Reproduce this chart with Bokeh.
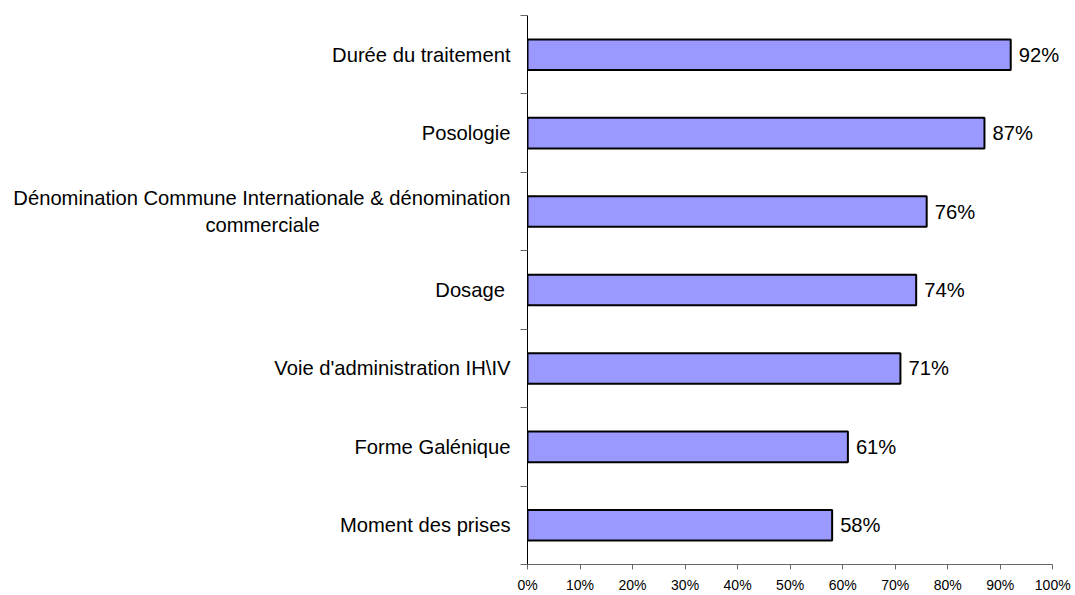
from bokeh.plotting import figure
from bokeh.models import Range1d, FixedTicker, NumeralTickFormatter, ColumnDataSource, LabelSet
from bokeh.embed import file_html
from bokeh.resources import INLINE
from bokeh.core.properties import value

categories = [
    "Durée du traitement",
    "Posologie",
    "Dénomination Commune Internationale & dénomination\ncommerciale" + " " * 34,
    "Dosage ",
    "Voie d'administration IH\\IV",
    "Forme Galénique",
    "Moment des prises",
]
values = [0.92, 0.87, 0.76, 0.74, 0.71, 0.61, 0.58]
value_labels = ["92%", "87%", "76%", "74%", "71%", "61%", "58%"]
x_ticks = [0, 0.1, 0.2, 0.3, 0.4, 0.5, 0.6, 0.7, 0.8, 0.9, 1.0]

n = len(categories)
ypos = [n - i - 0.5 for i in range(n)]

source = ColumnDataSource(dict(y=ypos, v=values, lab=value_labels))

p = figure(width=1071, height=595, output_backend="svg", toolbar_location=None,
           x_range=Range1d(0, 1.03), y_range=Range1d(0, n),
           min_border_left=527, min_border_right=3, min_border_top=15, min_border_bottom=28)
p.outline_line_color = None
p.background_fill_color = "white"
p.border_fill_color = "white"
p.xgrid.visible = False
p.ygrid.visible = False

p.hbar(y="y", right="v", left=0, height=0.39, source=source,
       fill_color="#9999FF", line_color="black", line_width=2)

labels = LabelSet(x="v", y="y", text="lab", source=source, x_offset=8, y_offset=0,
                  text_align="left", text_baseline="middle", text_font=value("Liberation Sans"),
                  text_font_size="20.2px", text_color="black")
p.add_layout(labels)

# x axis
p.xaxis.bounds = (0, 1)
p.xaxis.ticker = FixedTicker(ticks=x_ticks)
p.xaxis.formatter = NumeralTickFormatter(format="0%")
p.xaxis.major_label_text_font = "Liberation Sans"
p.xaxis.major_label_text_font_size = "14px"
p.xaxis.major_label_text_color = "black"
p.xaxis.major_tick_in = 0
p.xaxis.major_tick_out = 5
p.xaxis.minor_tick_line_color = None
p.xaxis.axis_line_color = "#666666"
p.xaxis.major_tick_line_color = "#666666"
p.xaxis.major_label_standoff = 7

# y axis
p.yaxis.ticker = FixedTicker(ticks=ypos, minor_ticks=list(range(n + 1)))
p.yaxis.major_label_overrides = {y: c for y, c in zip(ypos, categories)}
p.yaxis.major_tick_in = 0
p.yaxis.major_tick_out = 0
p.yaxis.minor_tick_in = 0
p.yaxis.minor_tick_out = 7
p.yaxis.minor_tick_line_color = "#666666"
p.yaxis.axis_line_color = "black"
p.yaxis.major_label_standoff = 10
p.yaxis.major_label_text_font = "Liberation Sans"
p.yaxis.major_label_text_font_size = "20.2px"
p.yaxis.major_label_text_color = "black"

open("out.html", "w").write(file_html(p, INLINE))
